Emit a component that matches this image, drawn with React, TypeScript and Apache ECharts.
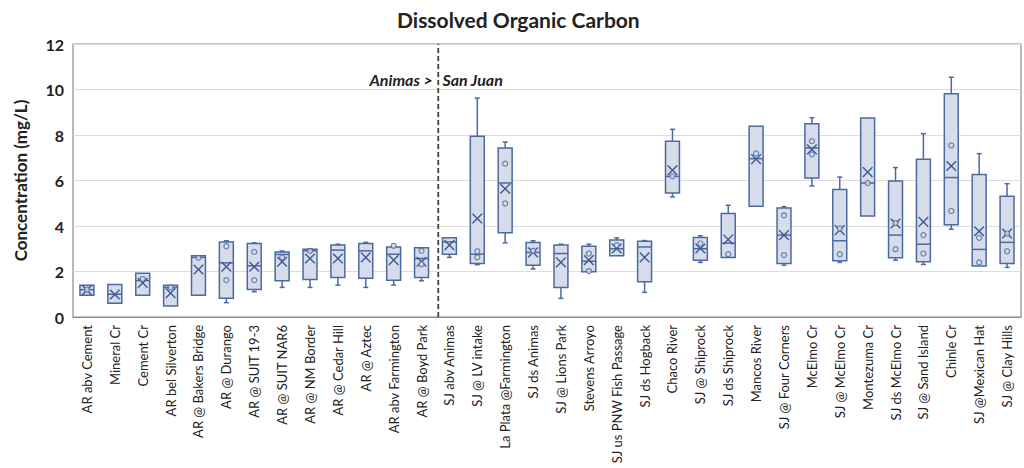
import React, { useEffect, useRef } from "react";
import * as echarts from "echarts";

const categories = [
  "AR abv Cement", "Mineral Cr", "Cement Cr", "AR bel Silverton", "AR @ Bakers Bridge",
  "AR @ Durango", "AR @ SUIT 19-3", "AR @ SUIT NAR6", "AR @ NM Border", "AR @ Cedar Hill",
  "AR @ Aztec", "AR abv Farmington", "AR @ Boyd Park", "SJ abv Animas", "SJ @ LV intake",
  "La Plata @Farmington", "SJ ds Animas", "SJ @ Lions Park", "Stevens Arroyo", "SJ us PNW Fish Passage",
  "SJ ds Hogback", "Chaco River", "SJ @ Shiprock", "SJ ds Shiprock", "Mancos River",
  "SJ @ Four Corners", "McElmo Cr", "SJ @ McElmo Cr", "Montezuma Cr", "SJ ds McElmo Cr",
  "SJ @ Sand Island", "Chinle Cr", "SJ @Mexican Hat", "SJ @ Clay Hills",
];
const mins = [0.96, 0.6, 0.96, 0.48, 0.96, 0.63, 1.11, 1.3, 1.3, 1.4, 1.3, 1.4, 1.59, 2.62, 2.3, 3.26, 2.11, 0.82, 1.99, 2.69, 1.08, 5.28, 2.4, 2.62, 4.87, 2.28, 5.76, 2.4, 4.44, 2.5, 2.31, 3.86, 2.24, 2.18];
const q1s = [0.96, 0.6, 0.96, 0.48, 0.96, 0.82, 1.21, 1.59, 1.65, 1.74, 1.7, 1.62, 1.74, 2.76, 2.35, 3.7, 2.28, 1.3, 1.99, 2.69, 1.55, 5.45, 2.5, 2.62, 4.87, 2.35, 6.11, 2.47, 4.44, 2.6, 2.43, 4.06, 2.24, 2.35];
const medians = [1.2, 1.0, 1.6, 1.3, 2.62, 2.38, 2.25, 2.75, 2.91, 2.94, 2.91, 2.76, 2.57, 3.3, 2.76, 5.89, 2.84, 2.79, 2.45, 3.0, 3.08, 6.18, 3.0, 3.25, 6.96, 3.6, 7.43, 3.35, 5.89, 3.6, 3.2, 6.13, 2.97, 3.28];
const q3s = [1.4, 1.43, 1.92, 1.4, 2.69, 3.3, 3.23, 2.86, 2.98, 3.16, 3.23, 3.08, 3.04, 3.48, 7.94, 7.43, 3.28, 3.16, 3.11, 3.38, 3.33, 7.72, 3.5, 4.55, 8.38, 4.79, 8.49, 5.6, 8.75, 5.98, 6.93, 9.81, 6.26, 5.31];
const maxs = [1.4, 1.43, 1.92, 1.4, 2.69, 3.35, 3.26, 2.9, 3.0, 3.2, 3.28, 3.08, 3.04, 3.48, 9.62, 7.69, 3.35, 3.2, 3.2, 3.48, 3.36, 8.25, 3.57, 4.91, 8.38, 4.85, 8.76, 6.15, 8.75, 6.57, 8.06, 10.54, 7.18, 5.86];
const means = [1.18, 0.99, 1.5, 1.05, 2.09, 2.21, 2.21, 2.43, 2.57, 2.57, 2.62, 2.5, 2.43, 3.16, 4.33, 5.64, 2.84, 2.4, 2.5, 3.01, 2.62, 6.45, 3.01, 3.41, 6.94, 3.6, 7.37, 3.82, 6.37, 4.11, 4.18, 6.64, 3.77, 3.67];

// inner points (circles)
const pointCats = [0, 2, 3, 4, 5, 5, 6, 6, 7, 8, 11, 12, 12, 14, 14, 15, 15, 16, 18, 18, 19, 21, 22, 23, 24, 25, 25, 26, 26, 27, 27, 28, 29, 29, 30, 30, 31, 31, 32, 32, 33, 33];
const pointValues = [1.2, 1.67, 1.3, 2.6, 3.11, 1.62, 2.86, 1.62, 2.62, 2.91, 3.13, 2.91, 2.32, 2.89, 2.62, 6.74, 4.99, 2.91, 2.79, 2.02, 3.16, 6.18, 3.23, 2.76, 7.19, 4.47, 2.72, 7.73, 7.15, 3.89, 2.76, 5.89, 4.13, 2.98, 3.6, 2.79, 7.54, 4.66, 3.48, 2.4, 3.67, 2.89];

const yTicks = { min: 0, max: 12, interval: 2 };
const dividerPosition = 12.6; // between AR @ Boyd Park and SJ abv Animas
const leftRegion = "Animas >";
const rightRegion = "San Juan";

const STROKE = "#4d6aa0";
const FILL = "#d6dcea";
const FONT = "Lato";

export default function App() {
  const ref = useRef<HTMLDivElement>(null);
  useEffect(() => {
    if (!ref.current) return;
    const chart = echarts.init(ref.current, undefined, { renderer: "svg" });
    const boxData = categories.map((_, i) => [i, mins[i], q1s[i], medians[i], q3s[i], maxs[i], means[i]]);
    const points = pointCats.map((c, i) => [c, pointValues[i]]);
    const grid = {
      left: 73, right: 3, top: 44, bottom: 151,
      containLabel: false, outerBoundsMode: "none",
      show: true, borderColor: "#8c8c8c", borderWidth: 1.2, backgroundColor: "#fff",
    };
    chart.setOption({
      animation: false,
      backgroundColor: "#fff",
      title: {
        text: "Dissolved Organic Carbon",
        left: 392,
        top: 4,
        textStyle: { fontFamily: FONT, fontWeight: "bold", fontSize: 21, color: "#222" },
      },
      grid,
      xAxis: [
        {
          type: "category",
          data: categories,
          boundaryGap: true,
          axisLine: { show: true, lineStyle: { color: "#8c8c8c", width: 1.2 } },
          axisTick: { show: false },
          splitLine: { show: false },
          axisLabel: { interval: 0, rotate: 90, margin: 8, fontFamily: FONT, fontSize: 13, color: "#222" },
        },
        { type: "value", min: -0.5, max: categories.length - 0.5, show: false },
      ],
      yAxis: {
        type: "value",
        min: yTicks.min,
        max: yTicks.max,
        interval: yTicks.interval,
        name: "Concentration (mg/L)",
        nameLocation: "middle",
        nameGap: 44,
        nameTextStyle: { fontFamily: FONT, fontWeight: "bold", fontSize: 17, color: "#222" },
        axisLine: { show: false },
        axisTick: { show: false },
        axisLabel: { fontFamily: FONT, fontWeight: "bold", fontSize: 16, color: "#222", margin: 9 },
        splitLine: { lineStyle: { color: "#dcdcdc", width: 1.2 } },
      },
      series: [
        {
          type: "line",
          xAxisIndex: 1,
          data: [[dividerPosition, yTicks.min], [dividerPosition, yTicks.max]],
          symbol: "none",
          silent: true,
          lineStyle: { color: "#444", width: 1.8, type: [5, 3] },
          z: 1,
        },
        {
          type: "custom",
          data: boxData,
          encode: { x: 0, y: [1, 2, 3, 4, 5, 6] },
          z: 3,
          renderItem: (params: any, api: any) => {
            const idx = api.value(0);
            const mn = api.value(1), q1 = api.value(2), md = api.value(3), q3 = api.value(4), mx = api.value(5), mean = api.value(6);
            const bw = api.size([1, 0])[0] * 0.5;
            const x = api.coord([idx, q3])[0];
            const y = (v: number) => api.coord([idx, v])[1];
            const line = { stroke: STROKE, lineWidth: 1.5, fill: "none" };
            const cap = 2.5;
            const children: any[] = [];
            if (mx > q3) {
              children.push({ type: "line", shape: { x1: x, y1: y(q3), x2: x, y2: y(mx) }, style: line });
              children.push({ type: "line", shape: { x1: x - cap, y1: y(mx), x2: x + cap, y2: y(mx) }, style: line });
            }
            if (mn < q1) {
              children.push({ type: "line", shape: { x1: x, y1: y(q1), x2: x, y2: y(mn) }, style: line });
              children.push({ type: "line", shape: { x1: x - cap, y1: y(mn), x2: x + cap, y2: y(mn) }, style: line });
            }
            children.push({
              type: "rect",
              shape: { x: x - bw / 2, y: y(q3), width: bw, height: y(q1) - y(q3) },
              style: { fill: FILL, stroke: STROKE, lineWidth: 1.5 },
            });
            children.push({ type: "line", shape: { x1: x - bw / 2, y1: y(md), x2: x + bw / 2, y2: y(md) }, style: line });
            const s = 4.8;
            const ym = y(mean);
            children.push({ type: "line", shape: { x1: x - s, y1: ym - s, x2: x + s, y2: ym + s }, style: { stroke: "#3d5a90", lineWidth: 1.4 } });
            children.push({ type: "line", shape: { x1: x - s, y1: ym + s, x2: x + s, y2: ym - s }, style: { stroke: "#3d5a90", lineWidth: 1.4 } });
            return { type: "group", children };
          },
        },
        {
          type: "scatter",
          data: points,
          symbol: "circle",
          symbolSize: 5,
          z: 4,
          itemStyle: { color: FILL, borderColor: STROKE, borderWidth: 1.2 },
        },
        {
          type: "line",
          xAxisIndex: 1,
          data: [],
          silent: true,
          markPoint: {
            symbol: "circle",
            symbolSize: 0,
            data: [
              { coord: [dividerPosition - 0.2, 10.45], label: { show: true, formatter: leftRegion, position: "left", distance: 0 } },
              { coord: [dividerPosition + 0.15, 10.45], label: { show: true, formatter: rightRegion, position: "right", distance: 0 } },
            ],
            label: { fontFamily: FONT, fontWeight: "bold", fontStyle: "italic", fontSize: 16, color: "#222" },
          },
        },
      ],
    });
    return () => chart.dispose();
  }, []);
  return <div ref={ref} style={{ position: "fixed", left: 0, top: 0, width: 1024, height: 468 }} />;
}
